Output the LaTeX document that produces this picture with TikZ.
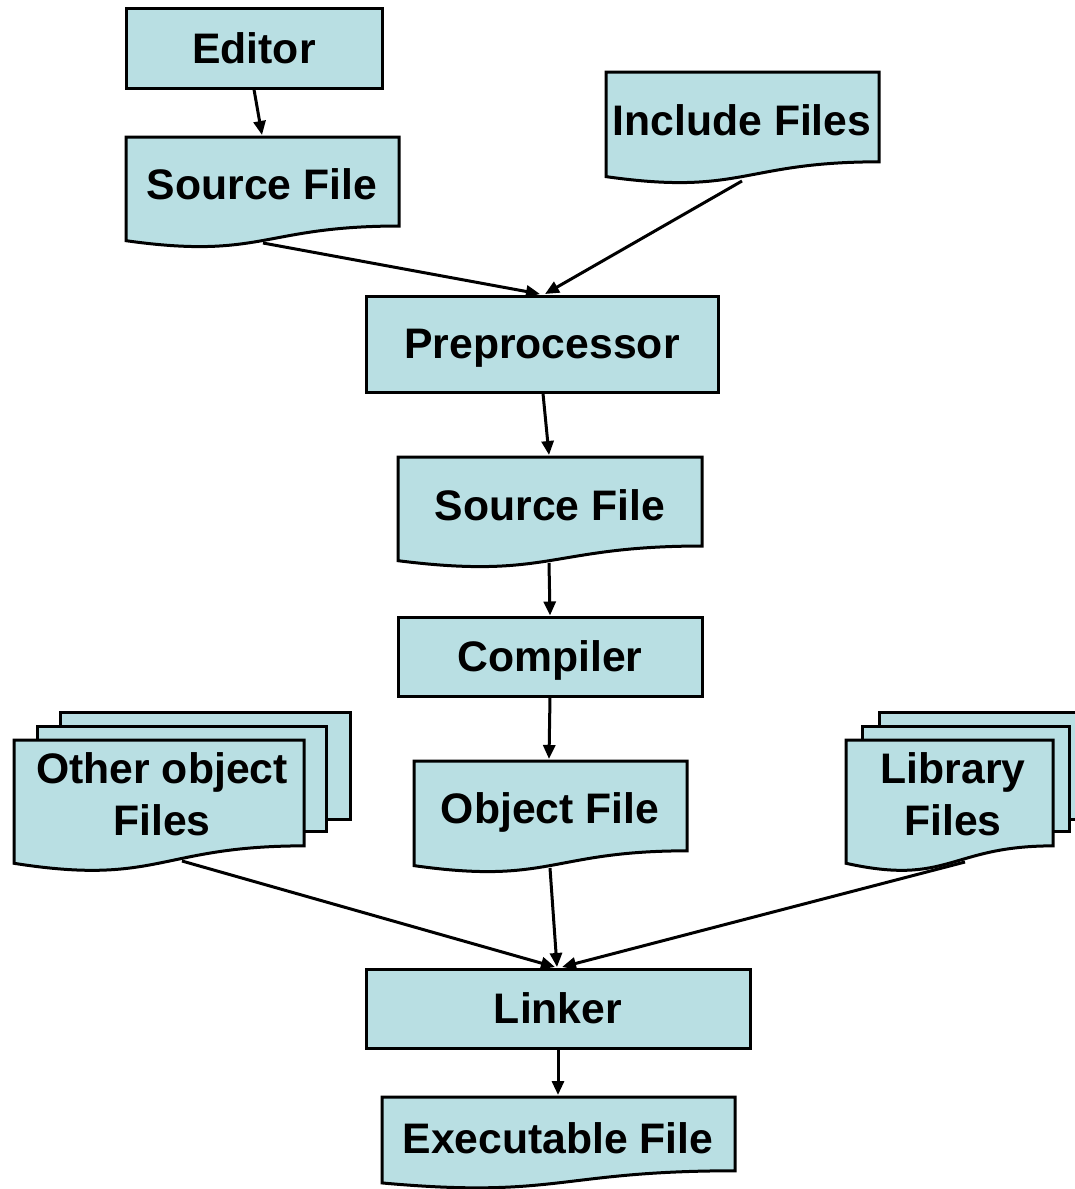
\documentclass[tikz,border=0pt]{standalone}
\usepackage{fontspec}
\setmainfont{Liberation Sans}
\usetikzlibrary{arrows.meta}
\definecolor{boxfill}{RGB}{185,223,227}
\tikzset{
  boxline/.style={draw=black, line width=3pt, fill=boxfill, line join=miter},
  bigtext/.style={font=\bfseries\fontsize{42.7}{52}\selectfont},
  procbox/.style={boxline, bigtext, inner sep=0pt, text depth=0pt},
  doctext/.style={bigtext, inner sep=0pt, align=center},
  onelinetext/.style={doctext, text depth=0pt},
  flow/.style={line width=3pt, -{Triangle[length=14pt,width=12pt]}}
}
% document sheet with a wavy lower edge: left x, top y, width, height
\newcommand\docsheet[4]{%
  \path[boxline] (#1,#2) -- ({#1+#3},#2) -- ({#1+#3},{#2+0.802*#4})
    .. controls ({#1+0.5*#3},{#2+0.802*#4}) and ({#1+0.5*#3},{#2+1.1075*#4})
    .. (#1,{#2+0.934*#4}) -- cycle;}
\begin{document}
\begin{tikzpicture}[x=1pt,y=-1pt]
\useasboundingbox (0,0) rectangle (1074,1189);

% process boxes
\node[procbox, minimum width=256pt, minimum height=80pt] (editor) at (254,48) {Editor};
\node[procbox, minimum width=352pt, minimum height=96pt] (pre) at (542,344) {Preprocessor};
\node[procbox, minimum width=304pt, minimum height=79pt] (comp) at (550,656.5) {Compiler};
\node[procbox, minimum width=384pt, minimum height=79pt] (link) at (558,1008.5) {Linker};

% single documents
\docsheet{126}{137}{273}{111}
\node[onelinetext] (src1) at (262,184) {Source File};
\docsheet{606}{72}{273}{112}
\node[onelinetext] (inc) at (742,120) {Include Files};
\docsheet{398}{457}{304}{111}
\node[onelinetext] (src2) at (550,505) {Source File};
\docsheet{414}{761}{273}{112}
\node[onelinetext] (obj) at (550,808) {Object File};
\docsheet{382}{1097}{353}{92}
\node[onelinetext] (exe) at (558,1138) {Executable File};

% stacked documents: other object files
\path[boxline] (60,712) rectangle (350,819);
\path[boxline] (37,726) rectangle (326,831);
\docsheet{14}{740}{290}{132}
\node[doctext] (other) at (162,794) {Other object\\Files};

% stacked documents: library files
\path[boxline] (879,712) rectangle (1095,819);
\path[boxline] (862,726) rectangle (1069,831);
\docsheet{846}{740}{207}{132}
\node[doctext] (lib) at (953,794) {Library\\Files};

% connection points on the document sheets
\coordinate (src1-in)  at (262,135);
\coordinate (src1-out) at (263,243);
\coordinate (inc-out)  at (742,181);
\coordinate (src2-in)  at (549,455);
\coordinate (src2-out) at (549,563);
\coordinate (obj-in)   at (549,759);
\coordinate (obj-out)  at (550,868);
\coordinate (other-out) at (182,861);
\coordinate (lib-out)  at (965,862);
\coordinate (exe-in)   at (558,1095);
\coordinate (pre-inA)  at (540,294);
\coordinate (pre-inB)  at (545,294);
\coordinate (link-inA) at (555,967);
\coordinate (link-inB) at (557,967);
\coordinate (link-inC) at (562,967);

% connectors
\draw[flow] (editor.south) -- (src1-in);
\draw[flow] (src1-out) -- (pre-inA);
\draw[flow] (inc-out) -- (pre-inB);
\draw[flow] ([xshift=1pt]pre.south) -- (src2-in);
\draw[flow] (src2-out) -- (comp.north);
\draw[flow] (comp.south) -- (obj-in);
\draw[flow] (other-out) -- (link-inA);
\draw[flow] (obj-out) -- (link-inB);
\draw[flow] (lib-out) -- (link-inC);
\draw[flow] (link.south) -- (exe-in);
\end{tikzpicture}
\end{document}
